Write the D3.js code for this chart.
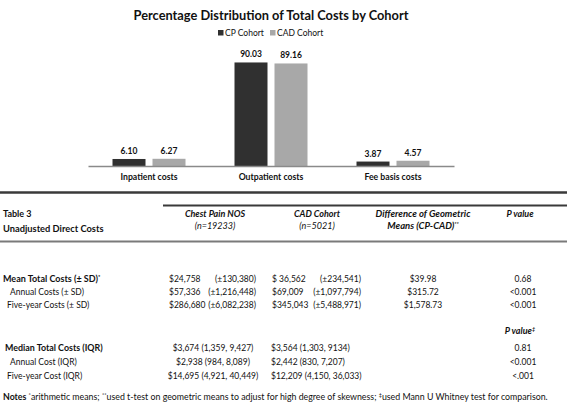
<!DOCTYPE html>
<html><head><meta charset="utf-8">
<script src="https://cdn.jsdelivr.net/npm/d3@7"></script>
<style>
body{margin:0;background:#fff;}
svg text{font-family:Lato, "Open Sans", sans-serif;fill:#111;}
</style></head>
<body><svg id="c" width="567" height="404"></svg>
<script>
// ---- chart data ----
const categories = ["Inpatient costs", "Outpatient costs", "Fee basis costs"];
const seriesNames = ["CP Cohort", "CAD Cohort"];
const cpValues = [6.10, 90.03, 3.87];
const cadValues = [6.27, 89.16, 4.57];
const chartTitle = "Percentage Distribution of Total Costs by Cohort";

// ---- table data ----
const meanLabels = ["Mean Total Costs (± SD)", "Annual Costs (± SD)", "Five-year Costs (± SD)"];
const cpMean = ["$24,758", "$57,336", "$286,680"];
const cpSD = ["(±130,380)", "(±1,216,448)", "(±6,082,238)"];
const cadMean = ["$ 36,562", "$69,009", "$345,043"];
const cadSD = ["(±234,541)", "(±1,097,794)", "(±5,488,971)"];
const diffGeo = ["$39.98", "$315.72", "$1,578.73"];
const pMean = ["0.68", "<0.001", "<0.001"];
const medianLabels = ["Median Total Costs (IQR)", "Annual Cost (IQR)", "Five-year Cost (IQR)"];
const cpMedian = ["$3,674 (1,359, 9,427)", "$2,938 (984, 8,089)", "$14,695 (4,921, 40,449)"];
const cadMedian = ["$3,564 (1,303, 9134)", "$2,442 (830, 7,207)", "$12,209 (4,150, 36,033)"];
const pMedian = ["0.81", "<0.001", "<.001"];

const svg = d3.select("#c");
const colors = ["#303030", "#a8a8a8"];

// ---- chart ----
const x0 = d3.scaleBand().domain(categories).range([88, 454]).paddingInner(0).paddingOuter(0);
const x1 = d3.scaleBand().domain(seriesNames).range([x0.bandwidth()/2 - 36.5, x0.bandwidth()/2 + 36.5]).paddingInner(0.175);
const y = d3.scaleLinear().domain([0, 100]).range([166, 51]);

svg.append("text").attr("x", 271).attr("y", 19.5).attr("text-anchor", "middle")
  .style("font-size", "12.8px").style("font-weight", "bold").text(chartTitle);

const leg = svg.append("g");
const legX = [218, 270];
seriesNames.forEach((s, i) => {
  leg.append("rect").attr("x", legX[i]).attr("y", 30).attr("width", 5.5).attr("height", 5.5).attr("fill", colors[i]);
  leg.append("text").attr("x", legX[i] + 7).attr("y", 36).style("font-size", "8.5px").text(s);
});

const vals = [cpValues, cadValues];
const g = svg.append("g");
categories.forEach((c, ci) => {
  seriesNames.forEach((s, si) => {
    const v = vals[si][ci];
    const bx = x0(c) + x1(s);
    g.append("rect").attr("x", bx).attr("y", y(v)).attr("width", x1.bandwidth())
      .attr("height", y(0) - y(v)).attr("fill", colors[si]);
    g.append("text").attr("x", bx + x1.bandwidth()/2).attr("y", y(v) - 5)
      .attr("text-anchor", "middle").style("font-size", "8.5px").style("font-weight", "bold")
      .text(v.toFixed(2));
  });
});
const xAxis = d3.axisBottom(x0).tickSize(0).tickPadding(8);
const ax = svg.append("g").attr("transform", "translate(0,166)").call(xAxis);
ax.select(".domain").attr("stroke", "#8a8a8a").attr("stroke-width", 1.3);
ax.selectAll("text").style("font-size", "8.7px").style("font-weight", "bold").attr("fill", "#111")
  .style("font-family", "Lato, sans-serif");

// ---- table ----
const t = svg.append("g");
function txt(xp, yp, s, opts = {}) {
  const e = t.append("text").attr("x", xp).attr("y", yp).style("font-size", (opts.size || 8.5) + "px")
    .attr("text-anchor", opts.anchor || "start");
  if (opts.bold) e.style("font-weight", "bold");
  if (opts.italic) e.style("font-style", "italic");
  e.text(s);
  if (opts.sup) e.append("tspan").attr("dy", -3).style("font-size", "5.5px").text(opts.sup);
  return e;
}
t.append("line").attr("x1", 0).attr("x2", 567).attr("y1", 192.5).attr("y2", 192.5).attr("stroke", "#3a3a3a").attr("stroke-width", 2.5);
t.append("line").attr("x1", 163).attr("x2", 567).attr("y1", 205.5).attr("y2", 205.5).attr("stroke", "#3a3a3a").attr("stroke-width", 2);
t.append("line").attr("x1", 0).attr("x2", 567).attr("y1", 241.5).attr("y2", 241.5).attr("stroke", "#7a7a7a").attr("stroke-width", 2);

txt(3, 217, "Table 3", {bold: true, size: 9});
txt(3, 232, "Unadjusted Direct Costs", {bold: true, size: 9.3});
txt(215, 217, "Chest Pain NOS", {bold: true, italic: true, anchor: "middle", size: 9});
txt(215, 229, "(n=19233)", {italic: true, anchor: "middle", size: 9});
txt(317, 217, "CAD Cohort", {bold: true, italic: true, anchor: "middle", size: 9});
txt(317, 229, "(n=5021)", {italic: true, anchor: "middle", size: 9});
txt(423, 217, "Difference of Geometric", {bold: true, italic: true, anchor: "middle", size: 9.5});
txt(423, 229, "Means (CP-CAD)", {bold: true, italic: true, anchor: "middle", size: 9.5, sup: "**"});
txt(520, 217, "P value", {bold: true, italic: true, anchor: "middle", size: 9});

const meanY = [282, 295, 308];
const indent = [3, 10, 7];
meanLabels.forEach((l, i) => {
  txt(indent[i], meanY[i], l, {bold: i === 0, size: i === 0 ? 9 : 8.5, sup: i === 0 ? "*" : null});
  txt(169, meanY[i], cpMean[i]);
  txt(256, meanY[i], cpSD[i], {anchor: "end"});
  txt(272, meanY[i], cadMean[i]);
  txt(361, meanY[i], cadSD[i], {anchor: "end"});
  txt(423, meanY[i], diffGeo[i], {anchor: "middle"});
  txt(523, meanY[i], pMean[i], {anchor: "middle"});
});
txt(520, 334, "P value", {bold: true, italic: true, anchor: "middle", size: 9, sup: "‡"});
const medY = [350.5, 364.5, 378.5];
medianLabels.forEach((l, i) => {
  txt(indent[i] + (i === 0 ? 2 : 0), medY[i], l, {bold: i === 0, size: i === 0 ? 8.9 : 8.5});
  txt(213, medY[i], cpMedian[i], {anchor: "middle"});
  txt(271, medY[i], cadMedian[i]);
  txt(523, medY[i], pMedian[i], {anchor: "middle"});
});
const notes = t.append("text").attr("x", 3).attr("y", 400).style("font-size", "8.8px");
notes.append("tspan").style("font-weight", "bold").text("Notes ");
notes.append("tspan").attr("dy", -3).style("font-size", "5.5px").text("*");
notes.append("tspan").attr("dy", 3).text("arithmetic means; ");
notes.append("tspan").attr("dy", -3).style("font-size", "5.5px").text("**");
notes.append("tspan").attr("dy", 3).text("used t-test on geometric means to adjust for high degree of skewness; ");
notes.append("tspan").attr("dy", -3).style("font-size", "5.5px").text("‡");
notes.append("tspan").attr("dy", 3).text("used Mann U Whitney test for comparison.");
</script></body></html>
